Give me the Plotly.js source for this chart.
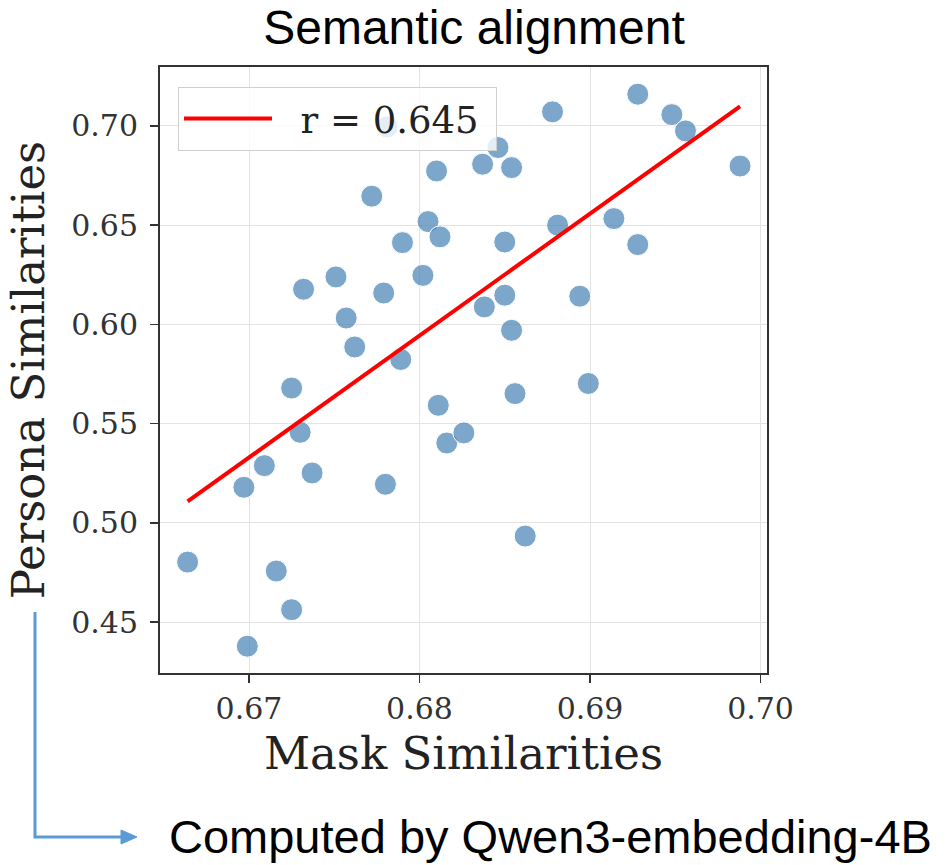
<!DOCTYPE html>
<html>
<head>
<meta charset="utf-8">
<script src="https://cdn.plot.ly/plotly-3.0.1.min.js"></script>
<style>html,body{margin:0;padding:0;background:#fff;}#chart{width:948px;height:865px;}</style>
</head>
<body>
<div id="chart"></div>
<script>
// Mask similarity (x) and persona similarity (y) per sample
const maskSim = [
  0.6664, 0.6697, 0.6699, 0.6716, 0.6725, 0.6709, 0.6725, 0.6730, 0.6737, 0.6780,
  0.6789, 0.6811, 0.6816, 0.6826, 0.6762, 0.6781, 0.6810, 0.6772, 0.6805, 0.6812,
  0.6790, 0.6802, 0.6751, 0.6732, 0.6779, 0.6757, 0.6928, 0.6878, 0.6948, 0.6956,
  0.6846, 0.6837, 0.6854, 0.6988, 0.6881, 0.6914, 0.6850, 0.6928, 0.6850, 0.6838,
  0.6894, 0.6854, 0.6856, 0.6899, 0.6862
];
const personaSim = [
  0.4802, 0.5179, 0.4378, 0.4757, 0.4562, 0.5288, 0.5679, 0.5456, 0.5251, 0.5194,
  0.5823, 0.5592, 0.5402, 0.5453, 0.5886, 0.6995, 0.6773, 0.6646, 0.6518, 0.6441,
  0.6412, 0.6247, 0.6239, 0.6177, 0.6158, 0.6032, 0.7160, 0.7071, 0.7057, 0.6975,
  0.6891, 0.6807, 0.6790, 0.6798, 0.6500, 0.6533, 0.6415, 0.6402, 0.6147, 0.6088,
  0.6142, 0.5970, 0.5651, 0.5702, 0.4933
];
const xTicks = [0.67, 0.68, 0.69, 0.70];
const yTicks = [0.45, 0.50, 0.55, 0.60, 0.65, 0.70];
const legendLabel = "r = 0.645";
const chartTitle = "Semantic alignment";
const xTitle = "Mask Similarities";
const yTitle = "Persona Similarities";
const note = "Computed by Qwen3-embedding-4B";

// least-squares fit from the data
const n = maskSim.length;
const mx = maskSim.reduce((a,b)=>a+b,0)/n;
const my = personaSim.reduce((a,b)=>a+b,0)/n;
let sxy = 0, sxx = 0;
for (let i=0;i<n;i++){ sxy += (maskSim[i]-mx)*(personaSim[i]-my); sxx += (maskSim[i]-mx)**2; }
const slope = sxy/sxx, icpt = my - slope*mx;
const xMin = Math.min(...maskSim), xMax = Math.max(...maskSim);
const fitX = [xMin, xMax];
const fitY = fitX.map(v => icpt + slope*v);

const serif = "DejaVu Serif, serif";
const sans = "Liberation Sans, Arial, sans-serif";
const NB = "\u00A0";

const traces = [
  {
    type: "scatter", mode: "markers", x: maskSim, y: personaSim, showlegend: false,
    marker: {size: 22, color: "rgba(70,130,180,0.7)", line: {color: "#ffffff", width: 1}},
    hoverinfo: "skip"
  },
  {
    type: "scatter", mode: "lines", x: fitX, y: fitY, name: NB + NB + legendLabel + NB,
    line: {color: "#ff0000", width: 4}
  }
];

// pixel -> paper helpers for decoration only (plot area 160..767 x 67..673)
const px = v => (v-160)/607;
const py = v => (673-v)/606;

const layout = {
  width: 948, height: 865,
  margin: {l: 160, r: 181, t: 67, b: 192},
  paper_bgcolor: "#ffffff", plot_bgcolor: "#ffffff",
  title: {text: chartTitle, font: {family: sans, size: 48, color: "#000"},
          x: 0.5, xref: "container", y: 0.968, yref: "container", yanchor: "middle"},
  xaxis: {
    range: [0.66478, 0.70038], tickvals: xTicks, tickformat: ".2f",
    showgrid: true, gridcolor: "#e3e3e3", gridwidth: 1, zeroline: false,
    showline: true, linecolor: "#333", linewidth: 2, mirror: true,
    ticks: "outside", ticklen: 8, tickwidth: 1.5, tickcolor: "#333",
    tickfont: {family: serif, size: 30, color: "#333"},
    title: {text: xTitle, font: {family: serif, size: 45, color: "#222"}, standoff: 12}
  },
  yaxis: {
    range: [0.4243, 0.7297], tickvals: yTicks, tickformat: ".2f",
    showgrid: true, gridcolor: "#e3e3e3", gridwidth: 1, zeroline: false,
    showline: true, linecolor: "#333", linewidth: 2, mirror: true,
    ticks: "outside", ticklen: 8, tickwidth: 1.5, tickcolor: "#333",
    ticklabelstandoff: 6,
    tickfont: {family: serif, size: 30, color: "#333"},
    title: {text: yTitle, font: {family: serif, size: 45, color: "#222"}, standoff: 12}
  },
  showlegend: true,
  legend: {
    x: px(178), y: py(87), xanchor: "left", yanchor: "top",
    bgcolor: "rgba(255,255,255,0.8)", bordercolor: "#d0d0d0", borderwidth: 1,
    font: {family: serif, size: 37, color: "#222"}, itemwidth: 88
  },
  shapes: [
    {type: "path", xref: "paper", yref: "paper",
     path: `M ${px(35)},${py(612)} L ${px(35)},${py(837)} L ${px(123)},${py(837)}`,
     line: {color: "#5B9BD5", width: 3}},
    {type: "path", xref: "paper", yref: "paper",
     path: `M ${px(121)},${py(830)} L ${px(137)},${py(837)} L ${px(121)},${py(844)} Z`,
     fillcolor: "#5B9BD5", line: {color: "#5B9BD5", width: 1}}
  ],
  annotations: [
    {text: note, xref: "paper", yref: "paper", x: px(167), y: py(836), xanchor: "left", yanchor: "middle",
     showarrow: false, font: {family: sans, size: 47, color: "#000"}}
  ]
};

Plotly.newPlot("chart", traces, layout, {displayModeBar: false, staticPlot: true});
</script>
</body>
</html>
